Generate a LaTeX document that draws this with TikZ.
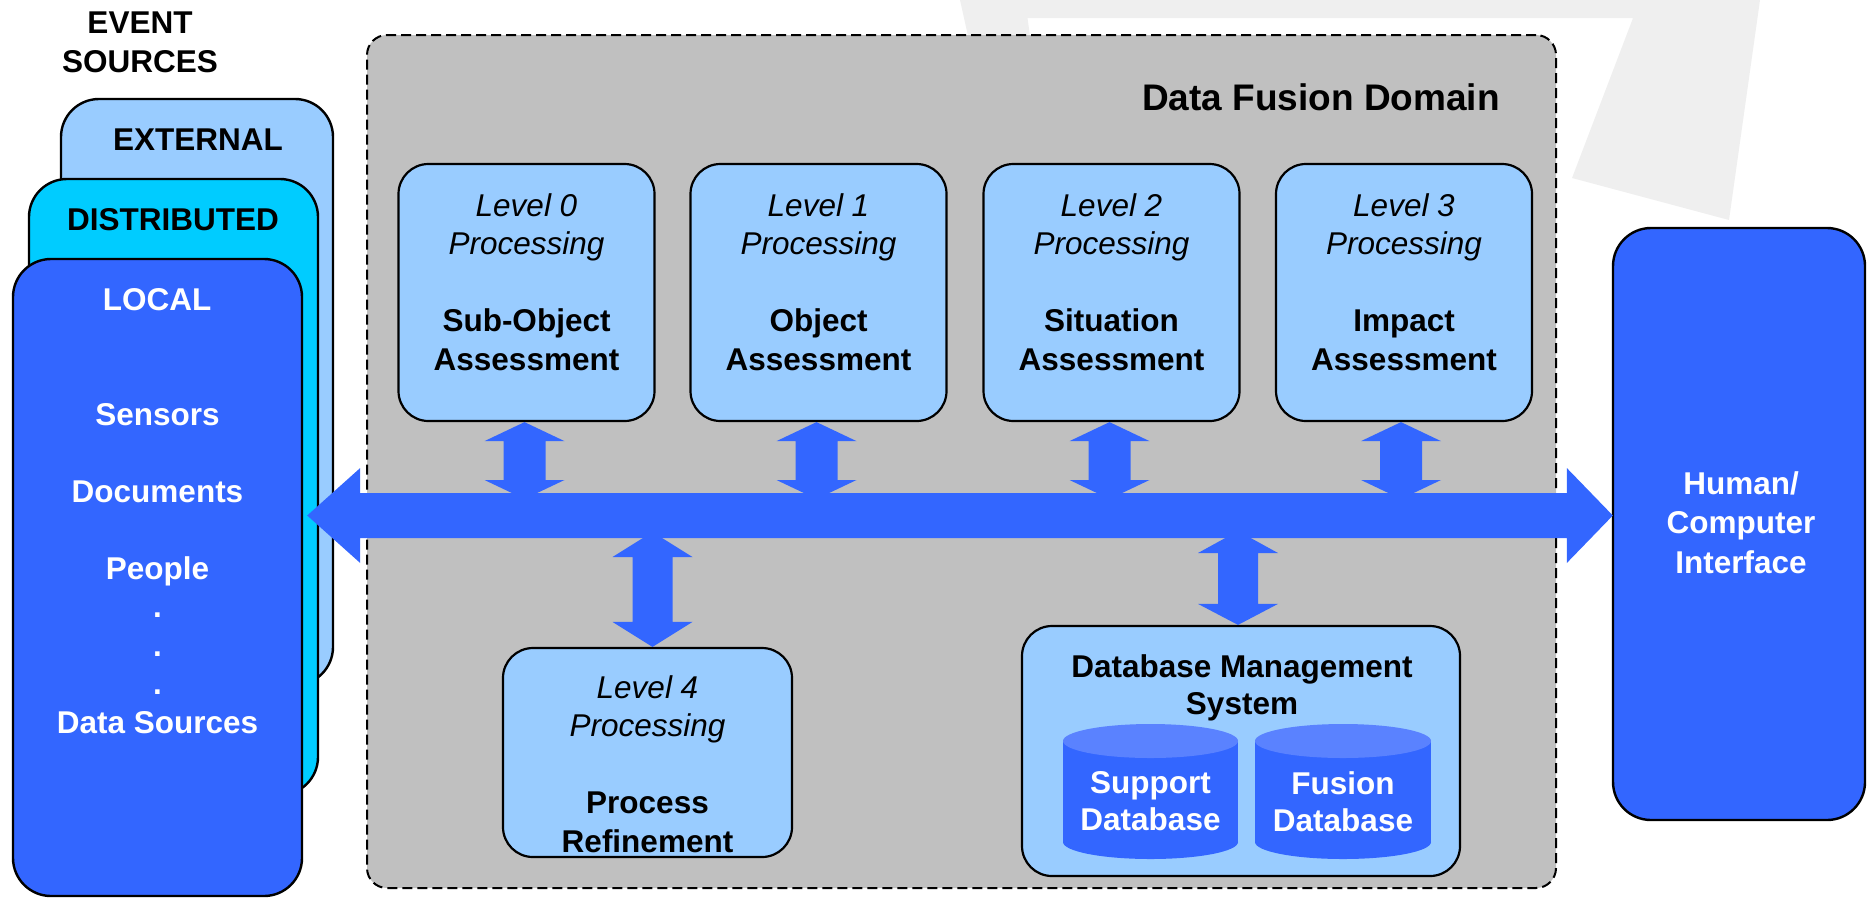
\documentclass[tikz,border=0pt]{standalone}
\usepackage{fontspec}
\setmainfont{Liberation Sans}
\usetikzlibrary{calc}
\definecolor{dblue}{HTML}{3366FF}
\definecolor{lblue}{HTML}{99CCFF}
\definecolor{cblue}{HTML}{00CCFF}
\definecolor{domgray}{HTML}{C0C0C0}
\definecolor{cyltop}{HTML}{5A82FF}
\definecolor{wmark}{HTML}{EFEFEF}
\newcommand\txtfont{\fontsize{31.5}{38.5}\selectfont\bfseries}
\newcommand\lv[1]{{\mdseries\itshape #1}}
\newcommand\vdarrow[6]{%
  \fill[arrowfill] (#1) -- ($(#1)+(#4,#5)$) -- ($(#1)+(#3,#5)$) -- ($(#2)+(#3,-#6)$) -- ($(#2)+(#4,-#6)$) -- (#2) -- ($(#2)+(-#4,-#6)$) -- ($(#2)+(-#3,-#6)$) -- ($(#1)+(-#3,#5)$) -- ($(#1)+(-#4,#5)$) -- cycle;}
\begin{document}
\begin{tikzpicture}[x=1pt,y=-1pt,
  srcbox/.style={draw=black, line width=2.4pt, rounded corners=38pt, inner sep=0},
  lvlbox/.style={draw=black, line width=2.2pt, fill=lblue, rounded corners=30pt, inner sep=0},
  dombox/.style={draw=black, line width=2pt, dash pattern=on 10pt off 5pt, fill=domgray, rounded corners=20pt, inner sep=0},
  lbl/.style={inner sep=0, align=center, font=\txtfont},
  arrowfill/.style={fill=dblue}]
\useasboundingbox (0,0) rectangle (1867,898);
% watermark
\fill[wmark] (1000,0) -- (1760,0) -- (1729,220) -- (1572,178) -- (1633,18) -- (1000,18) -- cycle;
\fill[wmark] (960,0) -- (1025,0) -- (1030,36) -- (968,36) -- cycle;

% event sources
\node[lbl] (evt) at (140,42.3) {\fontsize{31.5}{39}\selectfont EVENT\\SOURCES};
\node[srcbox, fill=lblue, minimum width=272pt, minimum height=586pt] (ext) at (197,392) {};
\node[lbl] (extt) at (198,140) {EXTERNAL};
\node[srcbox, fill=cblue, minimum width=289pt, minimum height=616pt] (dist) at (173.5,487) {};
\node[lbl] (distt) at (173,220) {DISTRIBUTED};
\node[srcbox, fill=dblue, minimum width=289pt, minimum height=637pt] (local) at (157.5,577.5) {};
\node[lbl, text=white] (localt) at (157,300) {LOCAL};
\node[lbl, text=white] (srcs) at (157.5,568.3) {\fontsize{31.5}{38.3}\selectfont Sensors\\\mbox{}\\Documents\\\mbox{}\\People\\.\\.\\.\\Data Sources};

% data fusion domain
\node[dombox, minimum width=1189pt, minimum height=853pt] (dom) at (961.5,461.5) {};
\node[lbl, anchor=east, font=\fontsize{37}{40}\selectfont\bfseries] (domt) at (1500,97) {Data Fusion Domain};

% level boxes
\node[lvlbox, minimum width=256pt, minimum height=257pt] (lvl0) at (526.5,292.5) {};
\node[lvlbox, minimum width=256pt, minimum height=257pt] (lvl1) at (818.5,292.5) {};
\node[lvlbox, minimum width=256pt, minimum height=257pt] (lvl2) at (1111.5,292.5) {};
\node[lvlbox, minimum width=256pt, minimum height=257pt] (lvl3) at (1404,292.5) {};
\node[lbl] (lvl0t) at (lvl0.center |- 0,282) {\lv{Level 0}\\\lv{Processing}\\\mbox{}\\Sub-Object\\Assessment};
\node[lbl] (lvl1t) at (lvl1.center |- 0,282) {\lv{Level 1}\\\lv{Processing}\\\mbox{}\\Object\\Assessment};
\node[lbl] (lvl2t) at (lvl2.center |- 0,282) {\lv{Level 2}\\\lv{Processing}\\\mbox{}\\Situation\\Assessment};
\node[lbl] (lvl3t) at (lvl3.center |- 0,282) {\lv{Level 3}\\\lv{Processing}\\\mbox{}\\Impact\\Assessment};

\node[lvlbox, minimum width=289pt, minimum height=209pt] (lvl4) at (647.5,752.5) {};
\node[lbl] (lvl4t) at (647.5,763.8) {\lv{Level 4}\\\lv{Processing}\\\mbox{}\\Process\\Refinement};

% database management system
\node[lvlbox, minimum width=438pt, minimum height=250pt] (dbms) at (1241,751) {};
\node[lbl, font=\fontsize{31.5}{36.5}\selectfont\bfseries] (dbmst) at (1242,688) {Database Management\\System};
\fill[dblue] (1063,741) rectangle (1238,842);
\fill[dblue] (1150.5,842) ellipse [x radius=87.5, y radius=17];
\fill[cyltop] (1150.5,741) ellipse [x radius=87.5, y radius=17];
\fill[dblue] (1255,741) rectangle (1431,842);
\fill[dblue] (1343,842) ellipse [x radius=88, y radius=17];
\fill[cyltop] (1343,741) ellipse [x radius=88, y radius=17];
\node[lbl, text=white, font=\fontsize{31.5}{37}\selectfont\bfseries] (supp) at (1150.5,801.3) {Support\\Database};
\node[lbl, text=white, font=\fontsize{31.5}{37}\selectfont\bfseries] (fus) at (1343,801.3) {Fusion\\Database};

% human computer interface
\node[srcbox, fill=dblue, minimum width=252pt, minimum height=592pt] (hci) at (1739,524) {};
\node[lbl, text=white, font=\fontsize{31.5}{39.5}\selectfont\bfseries] (hcit) at (1741,522.3) {Human/\\Computer\\Interface};

% bus level coordinates
\coordinate (busy) at (0,515.5);
\coordinate (bustop) at (0,493);
\coordinate (busbot) at (0,538);

% small double arrows
\coordinate (a0t) at ($(lvl0.south)+(-2,0)$);
\coordinate (a0b) at ($(lvl0.south |- bustop)+(-2,6)$);
\vdarrow{a0t}{a0b}{21}{40}{19}{19}
\coordinate (a1t) at ($(lvl1.south)+(-2,0)$);
\coordinate (a1b) at ($(lvl1.south |- bustop)+(-2,6)$);
\vdarrow{a1t}{a1b}{21}{40}{19}{19}
\coordinate (a2t) at ($(lvl2.south)+(-2,0)$);
\coordinate (a2b) at ($(lvl2.south |- bustop)+(-2,6)$);
\vdarrow{a2t}{a2b}{21}{40}{19}{19}
\coordinate (a3t) at ($(lvl3.south)+(-3,0)$);
\coordinate (a3b) at ($(lvl3.south |- bustop)+(-3,6)$);
\vdarrow{a3t}{a3b}{21}{40}{19}{19}
\coordinate (a4t) at ($(lvl4.north |- busbot)+(5,-6)$);
\coordinate (a4b) at ($(lvl4.north)+(5,0)$);
\vdarrow{a4t}{a4b}{20}{40}{25}{25}
\coordinate (a5t) at ($(dbms.north |- busbot)+(-3,-7)$);
\coordinate (a5b) at ($(dbms.north)+(-3,0)$);
\vdarrow{a5t}{a5b}{20}{40}{22}{21}

% main bus
\coordinate (busL) at ($(local.east |- busy)+(4,0)$);
\coordinate (busR) at ($(hci.west |- busy)+(1,0)$);
\fill[arrowfill] (busL) -- ++(53,-47.5) -- ++(0,25) -- ($(busR)+(-46,-22.5)$) -- ++(0,-25) -- (busR) -- ++(-46,47.5) -- ++(0,-25) -- ($(busL)+(53,22.5)$) -- ++(0,25) -- cycle;
\end{tikzpicture}
\end{document}
